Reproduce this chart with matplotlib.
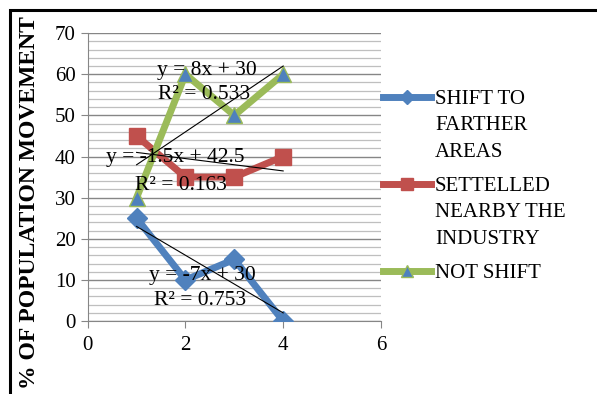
import numpy as np
import matplotlib.pyplot as plt
from matplotlib.patches import Rectangle

x = [1, 2, 3, 4]
farther = [25, 10, 15, 0]
nearby = [45, 35, 35, 40]
not_shift = [30, 60, 50, 60]
labels = ["SHIFT TO\nFARTHER\nAREAS", "SETTELLED\nNEARBY THE\nINDUSTRY", "NOT SHIFT"]
eqs = [("y = -7x + 30", "R² = 0.753", (2.34, 11.2), (2.3, 5.1)),
       ("y = -1.5x + 42.5", "R² = 0.163", (1.8, 39.7), (1.9, 33.0)),
       ("y = 8x + 30", "R² = 0.533", (2.44, 61.0), (2.38, 55.0))]

plt.rcParams['font.family'] = ['Liberation Serif', 'DejaVu Serif']

fig = plt.figure(figsize=(5.97, 3.94), dpi=100)
ax = fig.add_axes([0.147, 0.185, 0.491, 0.731])

blue, red, green = '#4F81BD', '#C0504D', '#9BBB59'
ax.plot(x, farther, color=blue, lw=5, marker='D', ms=10, mfc=blue, mec=blue, label=labels[0], zorder=3)
ax.plot(x, nearby, color=red, lw=5, marker='s', ms=11, mfc=red, mec=red, label=labels[1], zorder=3)
ax.plot(x, not_shift, color=green, lw=5, marker='^', ms=11, mfc=blue, mec=green, label=labels[2], zorder=3)

xs = np.array(x, dtype=float)
for ys, (e, r, p1, p2) in zip([farther, nearby, not_shift], eqs):
    m, b = np.polyfit(xs, ys, 1)
    ax.plot([xs[0], xs[-1]], [m * xs[0] + b, m * xs[-1] + b], color='black', lw=0.8, zorder=4)
    ax.text(*p1, e, ha='center', va='center', fontsize=15.5, zorder=5)
    ax.text(*p2, r, ha='center', va='center', fontsize=15.5, zorder=5)

ax.set_xlim(0, 6)
ax.set_ylim(0, 70)
ax.set_xticks([0, 2, 4, 6])
ax.set_yticks(range(0, 71, 10))
ax.set_yticks(range(0, 71, 2), minor=True)
ax.grid(axis='y', which='major', color='#868686', lw=1.0)
ax.grid(axis='y', which='minor', color='#BFBFBF', lw=0.9)
ax.tick_params(axis='both', which='major', labelsize=15, color='#868686', length=5)
ax.tick_params(axis='x', pad=6)
ax.tick_params(axis='y', which='minor', length=0)
for s in ['top', 'right']:
    ax.spines[s].set_visible(False)
for s in ['left', 'bottom']:
    ax.spines[s].set_color('#868686')
ax.set_axisbelow(True)
ax.set_ylabel('% OF POPULATION MOVEMENT', fontsize=17, fontweight='bold')
ax.yaxis.set_label_coords(-0.164, 0.413)

leg = fig.legend(loc='upper left', bbox_to_anchor=(0.610, 0.82), frameon=False, fontsize=15,
                 handlelength=2.3, handletextpad=0.2, labelspacing=0.7, markerscale=0.75)
for t in leg.get_texts():
    t.set_linespacing(1.55)
# handles sit on the first line of each label, as in the original
for col in leg._legend_handle_box.get_children():
    for row in col.get_children():
        row.align = 'top'

fig.add_artist(Rectangle((0.017, -0.1), 1.1, 1.075, transform=fig.transFigure,
                         fill=False, ec='black', lw=2.2))

fig.savefig('out.png', dpi=100)
